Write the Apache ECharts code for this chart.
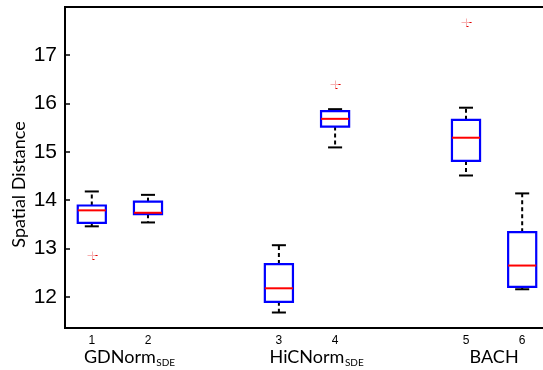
<!DOCTYPE html>
<html>
<head>
<meta charset="utf-8">
<script src="https://cdn.jsdelivr.net/npm/echarts@6/dist/echarts.min.js"></script>
<style>
  html, body { margin: 0; padding: 0; background: #fff; }
  #chart { width: 543px; height: 370px; }
</style>
</head>
<body>
<div id="chart"></div>
<script>
// Box positions along the x axis and their tick labels
const positions = [1, 2, 4.33, 5.33, 7.66, 8.66];
const tickLabels = ['1', '2', '3', '4', '5', '6'];

// Five-number summaries per box
const whiskerLow  = [13.46, 13.54, 11.68, 15.09, 14.51, 12.16];
const q1          = [13.53, 13.71, 11.90, 15.52, 14.81, 12.21];
const median      = [13.79, 13.74, 12.18, 15.68, 15.29, 12.65];
const q3          = [13.89, 13.97, 12.68, 15.84, 15.66, 13.34];
const whiskerHigh = [14.18, 14.11, 13.07, 15.88, 15.91, 14.14];

// Outliers: [box index, value]
const outlierBox = [0, 3, 4];
const outlierVal = [12.87, 16.39, 17.69];

// Method groups under the axis
const groupNames = ['GDNorm', 'HiCNorm', 'BACH'];
const groupSubs = ['SDE', 'SDE', ''];
const groupCenters = [1.5, 4.83, 8.16];

const yTicks = [12, 13, 14, 15, 16, 17];
const Y_MIN = 11.36, Y_MAX = 17.99;

const mainFont = '18px Lato';
const subFont = '10px Lato';
const measureCtx = document.createElement('canvas').getContext('2d');
function textWidth(t, font) { measureCtx.font = font; return measureCtx.measureText(t).width; }

const boxData = positions.map((p, i) => [p, whiskerLow[i], q1[i], median[i], q3[i], whiskerHigh[i]]);
const outlierData = outlierBox.map((b, i) => [positions[b], outlierVal[i]]);
const groupData = groupCenters.map((c, i) => [c, Y_MIN, i]);

function renderBox(params, api) {
  const x = api.value(0);
  const pWL = api.coord([x, api.value(1)]);
  const pQ1 = api.coord([x, api.value(2)]);
  const pMed = api.coord([x, api.value(3)]);
  const pQ3 = api.coord([x, api.value(4)]);
  const pWH = api.coord([x, api.value(5)]);
  const half = api.size([0.5, 0])[0] / 2;
  const cap = api.size([0.25, 0])[0] / 2;
  const cx = pMed[0];
  const black = { stroke: '#000', lineWidth: 2 };
  const dashed = { stroke: '#000', lineWidth: 2, lineDash: [4, 3] };
  return {
    type: 'group',
    children: [
      { type: 'line', shape: { x1: cx, y1: pQ3[1], x2: cx, y2: pWH[1] }, style: dashed },
      { type: 'line', shape: { x1: cx, y1: pQ1[1], x2: cx, y2: pWL[1] }, style: dashed },
      { type: 'line', shape: { x1: cx - cap, y1: pWH[1], x2: cx + cap, y2: pWH[1] }, style: black },
      { type: 'line', shape: { x1: cx - cap, y1: pWL[1], x2: cx + cap, y2: pWL[1] }, style: black },
      { type: 'rect', shape: { x: cx - half, y: pQ3[1], width: half * 2, height: pQ1[1] - pQ3[1] },
        style: { fill: 'none', stroke: '#0000ff', lineWidth: 2.2 } },
      { type: 'line', shape: { x1: cx - half, y1: pMed[1], x2: cx + half, y2: pMed[1] },
        style: { stroke: '#ff0000', lineWidth: 2 } }
    ]
  };
}

function renderOutlier(params, api) {
  const p = api.coord([api.value(0), api.value(1)]);
  const x = Math.round(p[0]) + 0.5, y = Math.round(p[1]) + 0.5;
  return {
    type: 'group',
    children: [
      { type: 'line', shape: { x1: x - 5, y1: y, x2: x + 5, y2: y }, style: { stroke: '#f7b0b0', lineWidth: 1 } },
      { type: 'line', shape: { x1: x, y1: y - 4, x2: x, y2: y + 4 }, style: { stroke: '#f7b0b0', lineWidth: 1 } },
      { type: 'line', shape: { x1: x + 3, y1: y, x2: x + 5, y2: y }, style: { stroke: '#e00000', lineWidth: 1 } },
      { type: 'line', shape: { x1: x, y1: y + 4, x2: x + 2, y2: y + 4 }, style: { stroke: '#e00000', lineWidth: 1 } }
    ]
  };
}

function renderGroup(params, api) {
  const p = api.coord([api.value(0), api.value(1)]);
  const i = api.value(2);
  const name = groupNames[i], sub = groupSubs[i];
  const w = textWidth(name, mainFont);
  const topY = p[1] + 20.5;
  const children = [
    { type: 'text', x: p[0] - w / 2, y: topY,
      style: { text: name, font: mainFont, fill: '#000', align: 'left', verticalAlign: 'top' } }
  ];
  if (sub) {
    children.push({ type: 'text', x: p[0] + w / 2 + 0.5, y: topY + 9.5,
      style: { text: sub, font: subFont, fill: '#000', align: 'left', verticalAlign: 'top' } });
  }
  return { type: 'group', children: children };
}

const chart = echarts.init(document.getElementById('chart'), null, { renderer: 'canvas' });
chart.setOption({
  animation: false,
  backgroundColor: '#fff',
  grid: {
    left: 65, top: 7, height: 321, width: 510,
    containLabel: false,
    outerBoundsMode: 'none',
    show: true, borderColor: '#000', borderWidth: 2, backgroundColor: 'transparent'
  },
  xAxis: {
    type: 'value',
    min: 0.523, max: 9.6,
    splitLine: { show: false },
    axisLine: { show: false },
    axisTick: { show: false },
    axisLabel: {
      customValues: positions,
      formatter: v => {
        const k = positions.findIndex(p => Math.abs(p - v) < 1e-6);
        return k >= 0 ? tickLabels[k] : '';
      },
      fontFamily: 'Liberation Sans, Arial, sans-serif',
      fontSize: 12, color: '#000', margin: 7
    }
  },
  yAxis: {
    type: 'value',
    min: Y_MIN, max: Y_MAX,
    name: 'Spatial Distance',
    nameLocation: 'middle',
    nameMoveOverlap: false,
    nameGap: 37,
    nameTextStyle: { fontFamily: 'Lato', fontSize: 18, color: '#000', padding: [0, 34, 0, 0] },
    splitLine: { show: false },
    axisLine: { show: false },
    axisTick: { show: true, inside: true, length: 5, customValues: yTicks, lineStyle: { color: '#000', width: 1.5 } },
    axisLabel: {
      customValues: yTicks,
      fontFamily: 'Liberation Sans, Arial, sans-serif',
      fontSize: 21, color: '#000', margin: 8
    }
  },
  series: [
    { type: 'custom', renderItem: renderBox, data: boxData, clip: false, encode: { x: 0, y: [1, 5] } },
    { type: 'custom', renderItem: renderOutlier, data: outlierData, encode: { x: 0, y: 1 } },
    { type: 'custom', renderItem: renderGroup, data: groupData, clip: false, encode: { x: 0, y: 1 } }
  ]
});
</script>
</body>
</html>
